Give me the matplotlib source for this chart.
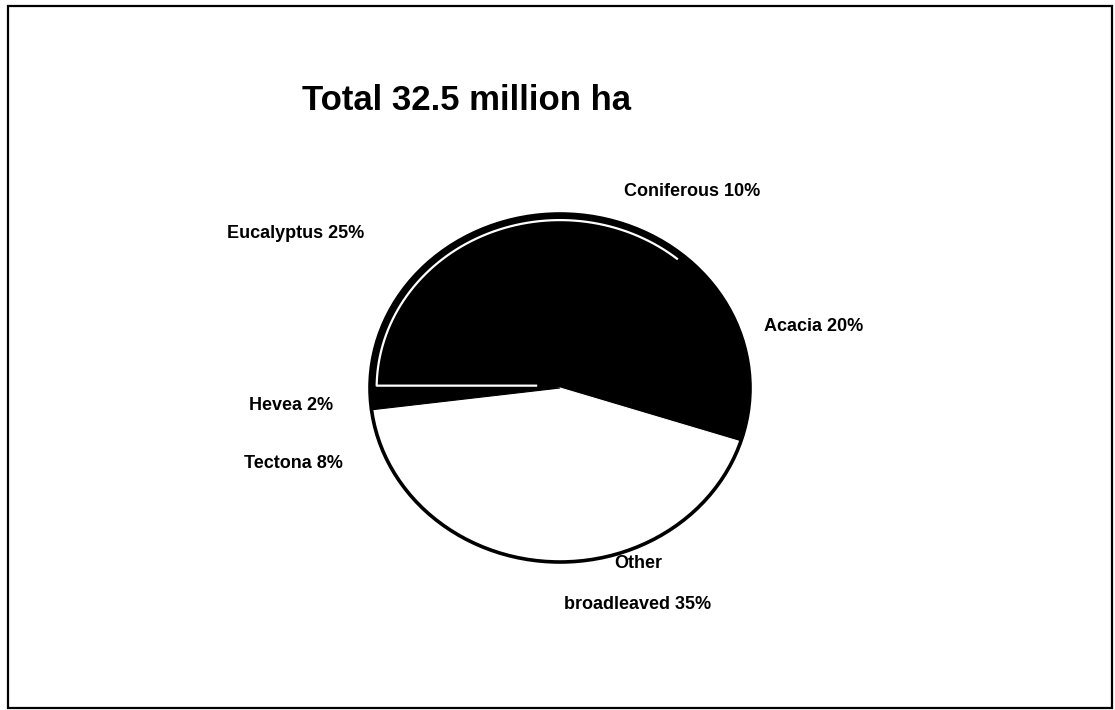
import numpy as np
import matplotlib
matplotlib.use("Agg")
import matplotlib.pyplot as plt
from matplotlib.patches import Circle, Rectangle

plt.rcParams['font.family'] = ['Liberation Sans', 'DejaVu Sans']

# Plantation area by genus (percent of 32.5 million ha)
species = ["Eucalyptus", "Coniferous", "Acacia", "Other broadleaved", "Tectona", "Hevea"]
shares = [25, 10, 20, 35, 8, 2]
fills = ["black", "black", "black", "white", "white", "black"]
label_text = ["Eucalyptus 25%", "Coniferous 10%", "Acacia 20%",
              "Other\n\nbroadleaved 35%", "Tectona 8%", "Hevea 2%"]
title = "Total 32.5 million ha"

W, H = 1115, 710
fig = plt.figure(figsize=(W / 100, H / 100), dpi=100)
fig.patch.set_facecolor("white")

def fx(px):
    return px / W

def fy(py):
    return 1 - py / H

# pie axes: radius ~190 px wide, ~174 px tall, centred at (560, 388)
cx, cy, rx, ry = 560, 388, 190, 174
ax = fig.add_axes([fx(cx - 1.2 * rx), fy(cy + 1.2 * ry), 2.4 * rx / W, 2.4 * ry / H])

wedges, _ = ax.pie(shares, colors=fills, startangle=180, counterclock=False,
                   radius=1.0, center=(0, 0), frame=True,
                   wedgeprops=dict(linewidth=0.8))
for w, c in zip(wedges, fills):
    w.set_edgecolor(c)
ax.set_xlim(-1.2, 1.2)
ax.set_ylim(-1.2, 1.2)
ax.set_aspect("auto")
ax.set_axis_off()

# outer rim of the pie
ax.add_patch(Circle((0, 0), 1.0, fill=False, edgecolor="black", linewidth=2.6))

# thin white outline inside the Eucalyptus slice
th = np.radians(np.linspace(50, 179.2, 140))
xs = list(0.965 * np.cos(th)) + [-0.12]
ys = list(0.965 * np.sin(th)) + [0.965 * np.sin(th[-1])]
ax.plot(xs, ys, color="white", linewidth=1.6, solid_capstyle="butt")

# slice labels
label_pos = {
    "Eucalyptus": (296, 233),
    "Coniferous": (692, 192),
    "Acacia": (814, 326),
    "Other broadleaved": (638, 584),
    "Tectona": (293, 464),
    "Hevea": (291, 406),
}
for name, txt in zip(species, label_text):
    x, y = label_pos[name]
    fig.text(fx(x), fy(y), txt, ha="center", va="center", fontsize=13,
             fontweight="bold", linespacing=1.27)

fig.text(fx(466), fy(100), title, ha="center", va="center",
         fontsize=25, fontweight="bold")

# frame around the chart area
fig.add_artist(Rectangle((fx(8), fy(708)), fx(1112) - fx(8), fy(6) - fy(708),
                         transform=fig.transFigure, fill=False,
                         edgecolor="black", linewidth=1.6))

fig.savefig("out.png", dpi=100, facecolor="white")
